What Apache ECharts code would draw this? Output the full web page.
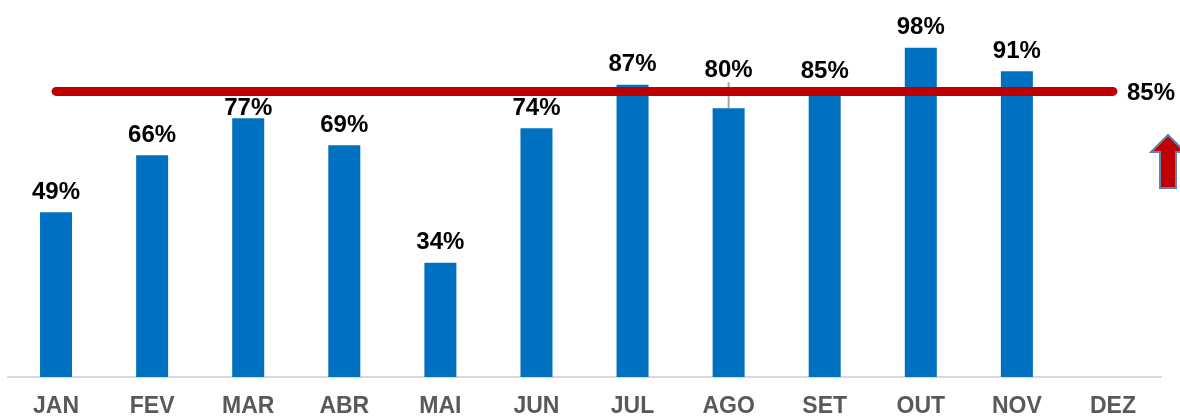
<!DOCTYPE html>
<html>
<head>
<meta charset="utf-8">
<script src="https://cdn.jsdelivr.net/npm/echarts@6/dist/echarts.min.js"></script>
<style>
  html, body { margin: 0; padding: 0; background: #fff; }
  #chart { width: 1180px; height: 418px; }
</style>
</head>
<body>
<div id="chart"></div>
<script>
// meses e percentuais
const months = ["JAN", "FEV", "MAR", "ABR", "MAI", "JUN", "JUL", "AGO", "SET", "OUT", "NOV", "DEZ"];
const values = [49, 66, 77, 69, 34, 74, 87, 80, 85, 98, 91, null];
const target = [85, 85, 85, 85, 85, 85, 85, 85, 85, 85, 85, 85];

const chart = echarts.init(document.getElementById("chart"));

chart.setOption({
  animation: false,
  grid: { left: 8, right: 19, top: 41, bottom: 41 },
  xAxis: {
    type: "category",
    data: months,
    axisTick: { show: false },
    axisLine: { lineStyle: { color: "#d9d9d9", width: 2 } },
    axisLabel: {
      color: "#595959",
      fontFamily: "Liberation Sans, Arial",
      fontWeight: "bold",
      fontSize: 23,
      margin: 18,
      interval: 0
    }
  },
  yAxis: {
    type: "value",
    min: 0,
    max: 100,
    show: false,
    splitLine: { show: false }
  },
  series: [
    {
      type: "bar",
      data: values.map((v, i) => {
        if (i === 7) {
          return { value: v, labelLine: { show: true, lineStyle: { color: "#a6a6a6", width: 2 } } };
        }
        return v;
      }),
      barWidth: 32,
      itemStyle: { color: "#0070c0" },
      label: {
        show: true,
        position: "top",
        distance: 8,
        color: "#000",
        fontFamily: "Liberation Sans, Arial",
        fontWeight: "bold",
        fontSize: 24,
        formatter: p => p.value + "%"
      },
      labelLayout: p => {
        if (p.dataIndex === 7) return { dy: -18 };
        if (p.dataIndex === 2) return { dy: 10 };
        return {};
      },
      z: 2
    },
    {
      type: "line",
      data: target,
      symbol: "none",
      lineStyle: { color: "#c00000", width: 9, cap: "round" },
      endLabel: {
        show: true,
        distance: 14,
        offset: [0, 2],
        color: "#000",
        fontFamily: "Liberation Sans, Arial",
        fontWeight: "bold",
        fontSize: 24,
        formatter: "85%"
      },
      z: 3
    }
  ],
  graphic: [
    {
      type: "polygon",
      shape: {
        points: [[1168, 135], [1185, 152], [1176, 152], [1176, 188], [1160, 188], [1160, 152], [1151, 152]]
      },
      style: { fill: "#c00000", stroke: "#5b83b5", lineWidth: 2 }
    }
  ]
});
</script>
</body>
</html>
